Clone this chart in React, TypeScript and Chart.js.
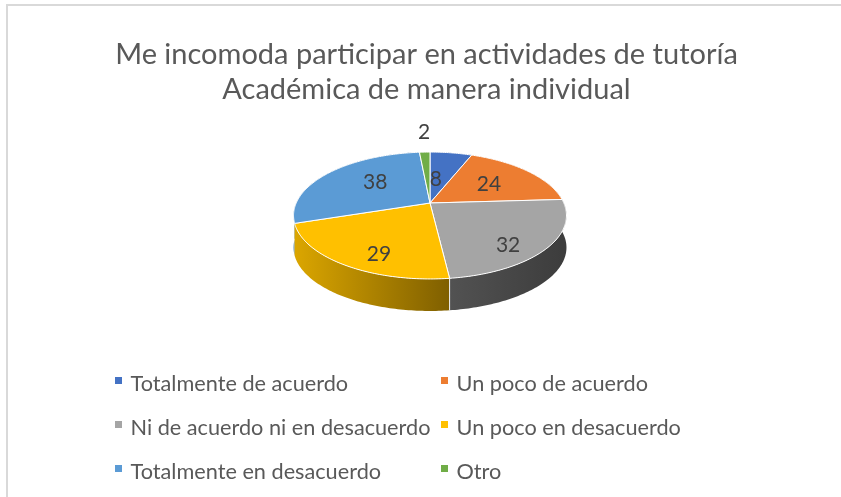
import React, { useEffect, useRef } from "react";
import { Chart, registerables } from "chart.js";

Chart.register(...registerables);

const categories = [
  "Totalmente de acuerdo",
  "Un poco de acuerdo",
  "Ni de acuerdo ni en desacuerdo",
  "Un poco en desacuerdo",
  "Totalmente en desacuerdo",
  "Otro",
];
const values = [8, 24, 32, 29, 38, 2];
const topColors = ["#4472C4", "#ED7D31", "#A5A5A5", "#FFC000", "#5B9BD5", "#70AD47"];
const sideLight = ["#3a62a8", "#cc6b2a", "#525252", "#dba600", "#4e85b7", "#60953d"];
const sideDark = ["#2a4880", "#9a5020", "#3d3d3d", "#7f5f00", "#3a6489", "#47702d"];
const titleLines = ["Me incomoda participar en actividades de tutoría", "Académica de manera individual"];
const labelRadii = [0.43, 0.575, 0.795, 0.79, 0.575, 1.51];
const labelAngleShift = [-4.6, 0.7, 9.8, -8, 7, 0.5];

const TEXT = "#595959";
const FONT = "Lato";
const PERSP = -0.197;
const SLOPE = 21;
const DEPTH = 32;
const PIE_SHIFT = 3.5;

const project = (arc: any, theta: number, r = 1, drop = 0) => {
  const u = Math.cos(theta) * r;
  const v = Math.sin(theta) * r;
  const w = 1 + PERSP * v;
  return { x: arc.x + PIE_SHIFT + (arc.outerRadius * u) / w, y: (arc.y + SLOPE * v) / w + drop };
};

const pie3d = {
  id: "pie3d",
  beforeDatasetDraw(chart: any) {
    const ctx = chart.ctx;
    const arcs = chart.getDatasetMeta(0).data;
    const rim = (arc: any, drop: number, from: number, to: number, first: boolean) => {
      const n = Math.max(2, Math.ceil(Math.abs(to - from) * 60));
      for (let k = 0; k <= n; k++) {
        const p = project(arc, from + ((to - from) * k) / n, 1, drop);
        if (k === 0 && first) ctx.moveTo(p.x, p.y);
        else ctx.lineTo(p.x, p.y);
      }
    };
    ctx.save();
    ctx.lineJoin = "round";
    [4, 5, 0, 1, 3, 2].forEach((i) => {
      const arc = arcs[i];
      const a = project(arc, arc.startAngle);
      const b = project(arc, arc.endAngle);
      const g = ctx.createLinearGradient(Math.min(a.x, b.x), 0, Math.max(a.x, b.x), 0);
      g.addColorStop(0, sideLight[i]);
      g.addColorStop(1, sideDark[i]);
      ctx.beginPath();
      rim(arc, 0, arc.startAngle, arc.endAngle, true);
      rim(arc, DEPTH, arc.endAngle, arc.startAngle, false);
      ctx.closePath();
      ctx.fillStyle = g;
      ctx.fill();
    });
    const seam = arcs[2];
    const s0 = project(seam, seam.endAngle);
    ctx.strokeStyle = "#f2f2f2";
    ctx.lineWidth = 1;
    ctx.beginPath();
    ctx.moveTo(s0.x, s0.y);
    ctx.lineTo(s0.x, s0.y + DEPTH);
    ctx.stroke();
    arcs.forEach((arc: any, i: number) => {
      const c = project(arc, 0, 0);
      ctx.beginPath();
      ctx.moveTo(c.x, c.y);
      rim(arc, 0, arc.startAngle, arc.endAngle, false);
      ctx.closePath();
      ctx.fillStyle = topColors[i];
      ctx.fill();
      ctx.strokeStyle = "#ffffff";
      ctx.lineWidth = 1;
      ctx.stroke();
    });
    ctx.restore();
    return false;
  },
  afterDatasetsDraw(chart: any) {
    const ctx = chart.ctx;
    const arcs = chart.getDatasetMeta(0).data;
    ctx.save();
    ctx.fillStyle = "#404040";
    ctx.font = `21px ${FONT}`;
    ctx.textAlign = "center";
    ctx.textBaseline = "middle";
    arcs.forEach((arc: any, i: number) => {
      const mid = (arc.startAngle + arc.endAngle) / 2 + (labelAngleShift[i] * Math.PI) / 180;
      const p = project(arc, mid, labelRadii[i]);
      ctx.fillText(String(values[i]), p.x, p.y);
    });
    ctx.restore();
  },
};

const legendGrid = {
  id: "legendGrid",
  afterDraw(chart: any) {
    const ctx = chart.ctx;
    ctx.save();
    ctx.font = `21.7px ${FONT}`;
    ctx.textBaseline = "middle";
    categories.forEach((name, i) => {
      const col = i % 2;
      const row = Math.floor(i / 2);
      const x = col === 0 ? 115 : 441;
      const y = 384 + row * 44;
      ctx.fillStyle = topColors[i];
      ctx.fillRect(x, y - 7, 7, 7);
      ctx.fillStyle = TEXT;
      ctx.fillText(name, x + 15.5, y);
    });
    ctx.restore();
  },
};

const frame = {
  id: "frame",
  beforeDraw(chart: any) {
    const ctx = chart.ctx;
    ctx.save();
    ctx.strokeStyle = "#d9d9d9";
    ctx.lineWidth = 2;
    ctx.strokeRect(7, 5, 900, 600);
    ctx.restore();
  },
};

export default function App() {
  const ref = useRef<HTMLCanvasElement | null>(null);
  useEffect(() => {
    const chart = new Chart(ref.current as HTMLCanvasElement, {
      type: "pie",
      data: {
        labels: categories,
        datasets: [{ data: values, backgroundColor: topColors, borderWidth: 0, radius: 133.8 }],
      },
      options: {
        responsive: false,
        animation: false,
        layout: { padding: { top: 0, bottom: 198, left: 12, right: 0 } },
        plugins: {
          legend: { display: false },
          tooltip: { enabled: false },
          title: {
            display: true,
            text: titleLines,
            color: TEXT,
            font: { family: FONT, size: 29, weight: "normal", lineHeight: 1.207 },
            padding: { top: 37, bottom: 0 },
          },
        },
      } as any,
      plugins: [frame, pie3d, legendGrid],
    });
    return () => chart.destroy();
  }, []);
  return (
    <div style={{ position: "absolute", left: 0, top: 0, width: 841, height: 497, background: "#fff" }}>
      <canvas ref={ref} width={841} height={497} style={{ display: "block" }} />
    </div>
  );
}
